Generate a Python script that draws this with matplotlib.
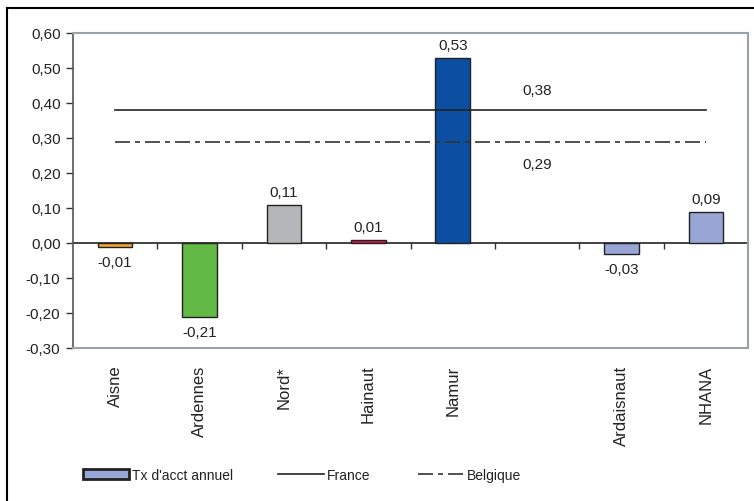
import matplotlib
matplotlib.use("Agg")
import matplotlib.pyplot as plt
from matplotlib.patches import Patch
from matplotlib.lines import Line2D
from matplotlib.ticker import FuncFormatter

# données
categories = ["Aisne", "Ardennes", "Nord*", "Hainaut", "Namur", "", "Ardaisnaut", "NHANA"]
taux = [-0.01, -0.21, 0.11, 0.01, 0.53, None, -0.03, 0.09]
couleurs = ["#f4a731", "#62b946", "#b5b6b9", "#d2194b", "#0b4ea2", "#ffffff", "#99a5d4", "#99a5d4"]
france = 0.38
belgique = 0.29
yticks = [-0.30, -0.20, -0.10, 0.00, 0.10, 0.20, 0.30, 0.40, 0.50, 0.60]

plt.rcParams["font.family"] = ["Liberation Sans", "DejaVu Sans"]

def virgule(v, pos=None):
    return f"{v:.2f}".replace(".", ",")

fig = plt.figure(figsize=(7.54, 5.02), dpi=100)
W, H = 754, 502
ax = fig.add_axes([73 / W, 1 - 349 / H, (748 - 73) / W, (349 - 34) / H])

x = list(range(len(categories)))
for i, (v, c) in enumerate(zip(taux, couleurs)):
    if v is None:
        continue
    ax.bar(i, v, width=0.41, color=c, edgecolor="#222222", linewidth=1.0, zorder=3)
    if v >= 0:
        ax.annotate(virgule(v), (i, v), xytext=(0, 4), textcoords="offset points",
                    ha="center", va="bottom", fontsize=11, color="#222222")
    else:
        ax.annotate(virgule(v), (i, v), xytext=(0, -6), textcoords="offset points",
                    ha="center", va="top", fontsize=11, color="#222222")

# lignes de référence
ax.plot(x, [france] * len(x), color="#222222", linewidth=1.2, zorder=4)
ax.plot(x, [belgique] * len(x), color="#333333", linewidth=1.2,
        dashes=(9, 3, 3, 3), zorder=4)
ax.annotate(virgule(france), (5, france), xytext=(0, 9), textcoords="offset points",
            ha="center", va="bottom", fontsize=11, color="#222222")
ax.annotate(virgule(belgique), (5, belgique), xytext=(0, -11), textcoords="offset points",
            ha="center", va="top", fontsize=11, color="#222222")

ax.set_xlim(-0.5, len(categories) - 0.5)
ax.set_ylim(-0.30, 0.60)
ax.set_yticks(yticks)
ax.yaxis.set_major_formatter(FuncFormatter(virgule))
ax.tick_params(axis="y", direction="out", length=5, width=1, color="#333333",
               labelsize=11, labelcolor="#222222", pad=4)

ax.set_xticks(x)
ax.set_xticklabels(categories, rotation=90, va="top", fontsize=12, color="#222222")
ax.tick_params(axis="x", length=0, pad=12)

for s in ["top", "right", "bottom"]:
    ax.spines[s].set_color("#9aa2aa")
    ax.spines[s].set_linewidth(1.5)
ax.spines["left"].set_color("#555555")
ax.spines["left"].set_linewidth(1.2)

# axe du zéro avec graduations entre catégories
ax0 = ax.secondary_xaxis(1 / 3)
ax0.set_xticks([i + 0.5 for i in x[:-1]])
ax0.set_xticklabels([])
ax0.tick_params(direction="out", length=4, width=1, color="#333333")
ax0.spines["bottom"].set_color("#222222")
ax0.spines["bottom"].set_linewidth(1.2)

# cadre de la figure (gauche et haut)
fig.add_artist(Line2D([7 / W, 7 / W], [0, 1 - 9 / H], color="black", linewidth=1.5))
fig.add_artist(Line2D([7 / W, 1], [1 - 9 / H, 1 - 9 / H], color="black", linewidth=1.5))

# légende
ly = 1 - 476 / H
leg_items = [
    (Patch(facecolor="#99a5d4", edgecolor="#222222", linewidth=2), "Tx d'acct annuel", 83),
    (Line2D([], [], color="#222222", linewidth=1.2), "France", 278),
    (Line2D([], [], color="#333333", linewidth=1.2, dashes=(9, 3, 3, 3)), "Belgique", 418),
]
for h, lab, px in leg_items:
    leg = fig.legend([h], [lab], loc="center left", bbox_to_anchor=(px / W, ly),
                     frameon=False, borderpad=0, borderaxespad=0, handlelength=3.3,
                     handleheight=0.7, handletextpad=0.2, fontsize=10)
    for t in leg.get_texts():
        t.set_color("#222222")

fig.savefig("out.png", dpi=100)
